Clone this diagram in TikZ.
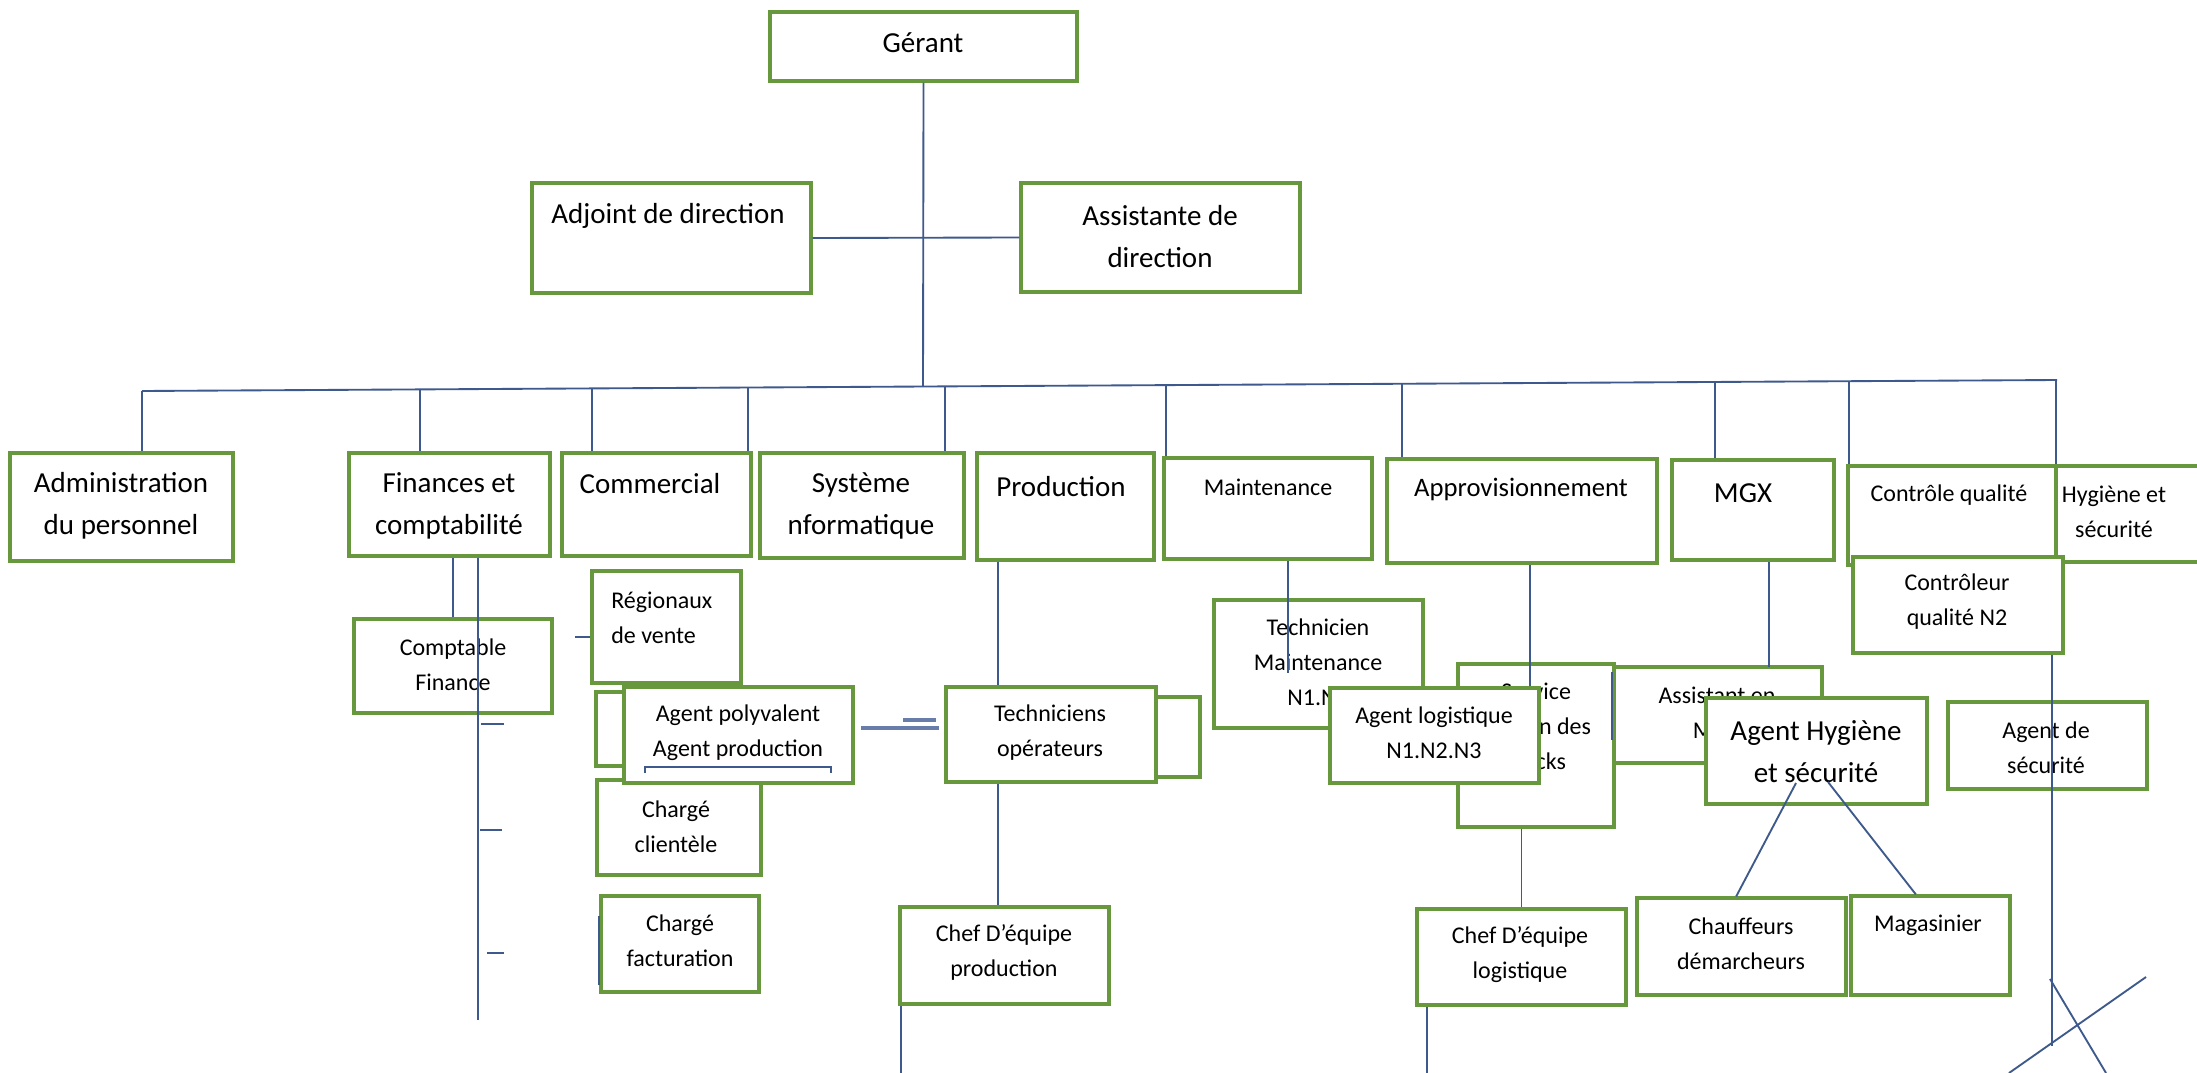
\documentclass[tikz,border=0pt]{standalone}
\usepackage{fontspec}
\setmainfont{Carlito}

\definecolor{boxgreen}{RGB}{104,152,62}
\definecolor{linkblue}{RGB}{62,90,140}
\definecolor{dblblue}{RGB}{105,125,170}

\tikzset{
  orgbox/.style={draw=boxgreen, line width=2.4pt, fill=white, inner sep=0pt},
  boxwh/.style 2 args={minimum width=#1*0.75pt, minimum height=#2*0.75pt},
  txtbig/.style={font=\fontsize{21.75}{31.5}\selectfont, align=center, inner sep=0pt},
  txtsmall/.style={font=\fontsize{18}{26.25}\selectfont, align=center, inner sep=0pt},
  link/.style={draw=linkblue, line width=1.4pt},
  dbl/.style={draw=dblblue, line width=2.6pt},
}

\begin{document}
\begin{tikzpicture}[x=0.75pt,y=0.75pt,yscale=-1,xscale=1]
\clip (0,0) rectangle (2197,1073);
\fill [white] (0,0) rectangle (2197,1073);

%Coordinates on the main line
\coordinate (bus-l) at (142,391);
\coordinate (bus-r) at (2057,380);
\coordinate (bus-g) at (923,386.5);
\coordinate (d-142) at (142,391);
\coordinate (d-420) at (420,389.4);
\coordinate (d-592) at (592,388.4);
\coordinate (d-748) at (748,387.5);
\coordinate (d-945) at (945,386.4);
\coordinate (d-1166) at (1166,385.1);
\coordinate (d-1402) at (1402,383.8);
\coordinate (d-1715) at (1715,382);
\coordinate (d-1849) at (1849,381.2);
\coordinate (d-2056) at (2056,380);

%Shape: Rectangle
\node [orgbox, boxwh={307}{69}] (gerant) at (923.5,46.5) {};
\node [orgbox, boxwh={279}{110}] (adjoint) at (671.5,238) {};
\node [orgbox, boxwh={279}{109}] (assistante) at (1160.5,237.5) {};

%Straight Lines
\draw [link] (gerant.south) -- (bus-g) ;
\draw [link] (adjoint.east) -- (assistante.west) ;
\draw [link] (bus-l) -- (bus-r) ;

% Text Node
\node [txtbig] (t-gerant) at (923,43) {Gérant};
\node [txtbig] (t-adjoint) at (668,216) {Adjoint de direction};
\node [txtbig] (t-assistante) at (1160,236.5) {Assistante de\\direction};

%Shape: Rectangle
\node [orgbox, boxwh={223}{108}] (admin) at (121.5,507) {};
\node [orgbox, boxwh={201}{103}] (finances) at (449.5,504.5) {};
\node [orgbox, boxwh={189}{103}] (commercial) at (656.5,504.5) {};
\node [orgbox, boxwh={204}{105}] (systeme) at (862,505.5) {};
\node [orgbox, boxwh={177}{107}] (production) at (1065.5,506.5) {};
\node [orgbox, boxwh={208}{101}] (maintenance) at (1268,508.5) {};
\node [orgbox, boxwh={270}{104}] (appro) at (1522,511) {};
\node [orgbox, boxwh={162}{100}] (mgx) at (1753,510) {};
\node [orgbox, boxwh={160}{96}] (hygiene) at (2136,514) {};
\node [orgbox, boxwh={208}{99}] (controle) at (1952,515.5) {};

%Straight Lines
\draw [link] (d-142) -- (d-142 |- admin.north) ;
\draw [link] (d-420) -- (d-420 |- finances.north) ;
\draw [link] (d-592) -- (d-592 |- commercial.north) ;
\draw [link] (d-748) -- (d-748 |- commercial.north) ;
\draw [link] (d-945) -- (d-945 |- systeme.north) ;
\draw [link] (d-1166) -- (d-1166 |- maintenance.north) ;
\draw [link] (d-1402) -- (d-1402 |- appro.north) ;
\draw [link] (d-1715) -- (d-1715 |- mgx.north) ;
\draw [link] (d-1849) -- (d-1849 |- controle.north) ;
\draw [link] (d-2056) -- (d-2056 |- hygiene.north) ;

% Text Node
\node [txtbig] (t-admin) at (121,505.5) {Administration\\du personnel};
\node [txtbig] (t-finances) at (449,505.5) {Finances et\\comptabilité};
\node [txtbig] (t-commercial) at (650,484) {Commercial};
\node [txtbig] (t-systeme) at (861,505.5) {Système\\nformatique};
\node [txtbig] (t-production) at (1061,487) {Production};
\node [txtsmall] (t-maintenance) at (1268,487) {Maintenance};
\node [txtbig, font=\fontsize{20}{30}\selectfont] (t-appro) at (1521,489) {Approvisionnement};
\node [txtbig] (t-mgx) at (1743,493) {MGX};
\node [txtsmall] (t-controle) at (1949,495) {Contrôle qualité};
\node [txtsmall] (t-hygiene) at (2114,511.5) {Hygiène et\\sécurité};

%Shape: Rectangle
\node [orgbox, boxwh={210}{96}] (controleur) at (1958,605) {};
\node [txtsmall] (t-controleur) at (1957,601.5) {Contrôleur\\qualité N2};

%Finances
\node [orgbox, boxwh={198}{94}] (comptable) at (453,666) {};
\node [txtsmall] (t-comptable) at (453,664.5) {Comptable\\Finance};
\coordinate (fin-end) at (478,1020);
\draw [link] (comptable.north |- finances.south) -- (comptable.north) ;
\draw [link] (fin-end |- finances.south) -- (fin-end) ;
\draw [link] (481,724) -- (504,724) ;
\draw [link] (480,830) -- (502,830) ;
\draw [link] (487,953) -- (504,953) ;

%Commercial
\node [orgbox, boxwh={149}{112}] (regionaux) at (666.5,627) {};
\node [txtsmall, align=left, anchor=west] (t-regionaux) at (611,617.5) {Régionaux\\de vente};
\coordinate (reg-tick) at (575,637);
\draw [link] (reg-tick) -- (reg-tick -| regionaux.west) ;
\node [orgbox, boxwh={104}{74}] (commhid) at (648,729) {};
\node [orgbox, boxwh={164}{95}] (clientele) at (679,827.5) {};
\node [txtsmall] (t-clientele) at (676,826.5) {Chargé\\clientèle};
\node [orgbox, boxwh={229}{96}] (agentpoly) at (738.5,735) {};
\node [txtsmall] (t-agentpoly) at (738,733) {Agent polyvalent\\Agent production};
\draw [linkblue, line width=1pt] (645,773) -- (645,767) -- (831,767) -- (831,773) ;
\node [orgbox, boxwh={158}{96}] (facturation) at (680,944) {};
\node [txtsmall] (t-facturation) at (680,941) {Chargé\\facturation};
\draw [link] ([yshift=30.75pt]facturation.west) -- ([yshift=-21pt]facturation.west) ;

%Production
\coordinate (eq-a1) at (861,728);
\coordinate (eq-a2) at (939,728);
\coordinate (eq-b1) at (903,720);
\coordinate (eq-b2) at (936,720);
\draw [dbl] (eq-a1) -- (eq-a2) ;
\draw [dbl] (eq-b1) -- (eq-b2) ;
\node [orgbox, boxwh={100}{80}] (prodhid) at (1150,737) {};
\node [orgbox, boxwh={210}{95}] (techniciens) at (1051,734.5) {};
\node [txtsmall] (t-techniciens) at (1050,732.5) {Techniciens\\opérateurs};
\node [orgbox, boxwh={209}{97}] (chefprod) at (1004.5,955.5) {};
\node [txtsmall] (t-chefprod) at (1004,952.5) {Chef D’équipe\\production};
\coordinate (prod-x) at (998,0);
\coordinate (prod-end) at (901,1073);
\draw [link] (prod-x |- production.south) -- (prod-x |- techniciens.north) ;
\draw [link] (prod-x |- techniciens.south) -- (prod-x |- chefprod.north) ;
\draw [link] (prod-end |- chefprod.south) -- (prod-end) ;

%Maintenance and Approvisionnement
\node [orgbox, boxwh={209}{128}] (technicienm) at (1318.5,664) {};
\node [txtsmall] (t-technicienm) at (1318,662) {Technicien\\Maintenance\\N1.N2};
\coordinate (maint-end) at (1288,673);
\draw [link] (maint-end |- maintenance.south) -- (maint-end) ;
\node [orgbox, boxwh={156}{163}] (service) at (1536,745.5) {};
\node [txtsmall] (t-service) at (1536,726) {Service\\gestion des\\stocks};
\node [orgbox, boxwh={208}{96}] (assistantmgx) at (1718,715) {};
\node [txtsmall] (t-assistantmgx) at (1717,713) {Assistant en\\MGX};
\coordinate (appro-x) at (1530,0);
\coordinate (mgx-end) at (1769,667);
\draw [link] (appro-x |- appro.south) -- (appro-x |- service.north) -- (appro-x |- 0,688) ;
\draw [link] (mgx-end |- mgx.south) -- (mgx-end) ;
\node [orgbox, boxwh={209}{95}] (agentlog) at (1434.5,735.5) {};
\node [txtsmall] (t-agentlog) at (1434,732.5) {Agent logistique\\N1.N2.N3};
\coordinate (svc-a) at (1612,672);
\coordinate (svc-b) at (1612,740);
\draw [link] (svc-a) -- (svc-b) ;
\node [orgbox, boxwh={209}{96}] (cheflog) at (1521.5,957) {};
\node [txtsmall] (t-cheflog) at (1520,955) {Chef D’équipe\\logistique};
\coordinate (log-end) at (1427,1073);
\draw [link] (cheflog.north |- service.south) -- (cheflog.north) ;
\draw [link] (log-end |- cheflog.south) -- (log-end) ;

%MGX and Hygiene
\node [orgbox, boxwh={221}{106}] (agenthyg) at (1816.5,751) {};
\node [txtbig] (t-agenthyg) at (1816,751.5) {Agent Hygiène\\et sécurité};
\node [orgbox, boxwh={209}{97}] (chauffeurs) at (1741.5,946.5) {};
\node [txtsmall] (t-chauffeurs) at (1741,943.5) {Chauffeurs\\démarcheurs};
\node [orgbox, boxwh={159}{99}] (magasinier) at (1930.5,945.5) {};
\node [txtsmall] (t-magasinier) at (1928,925) {Magasinier};
\coordinate (hyg-a) at (1796,783);
\coordinate (hyg-b) at (1828,782);
\draw [link] (hyg-a) -- ([xshift=-4pt]chauffeurs.north) ;
\draw [link] (hyg-b) -- ([xshift=-11pt]magasinier.north) ;

%Controle qualite
\node [orgbox, boxwh={199}{87}] (agentsec) at (2047.5,745.5) {};
\node [txtsmall] (t-agentsec) at (2046,748) {Agent de\\sécurité};
\coordinate (ctl-end) at (2052,1046);
\draw [link] (ctl-end |- controleur.south) -- (ctl-end) ;
\coordinate (cross-a1) at (2050,979);
\coordinate (cross-a2) at (2106,1073);
\coordinate (cross-b1) at (2146,977);
\coordinate (cross-b2) at (2009,1073);
\draw [link] (cross-a1) -- (cross-a2) ;
\draw [link] (cross-b1) -- (cross-b2) ;

\end{tikzpicture}
\end{document}
